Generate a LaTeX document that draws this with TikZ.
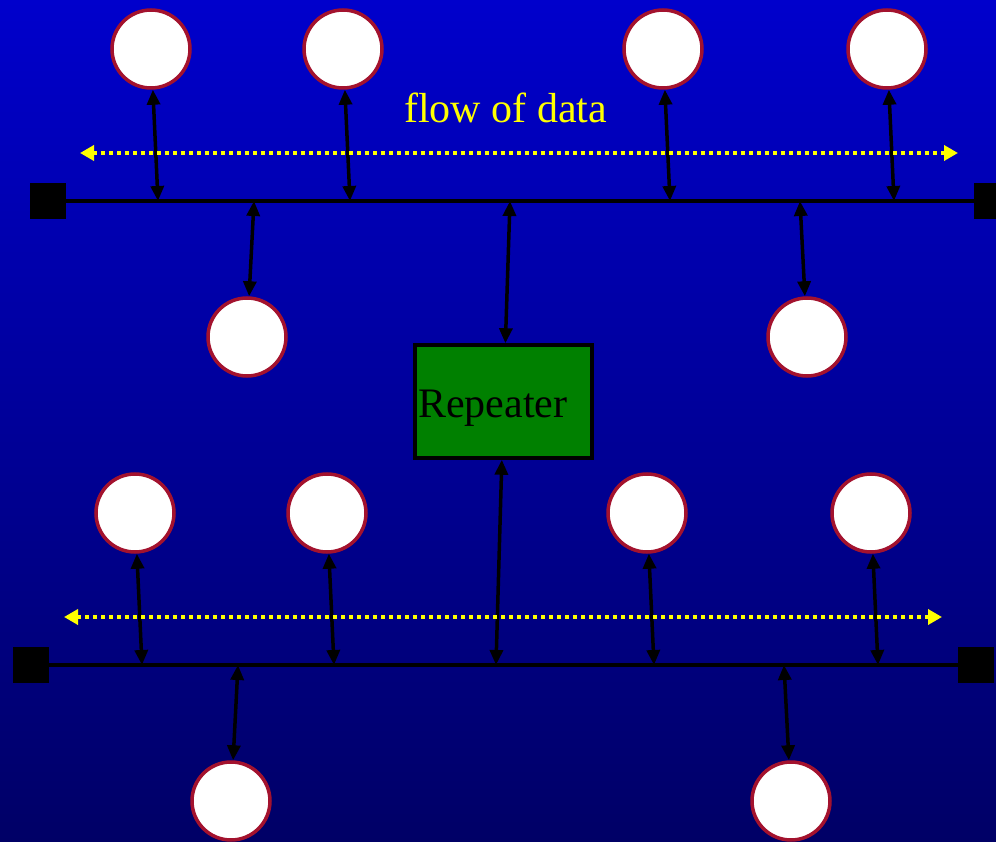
\documentclass[tikz,border=0pt]{standalone}
\usepackage{fontspec}
\setmainfont{Liberation Serif}
\usetikzlibrary{arrows.meta}
\definecolor{bgtop}{RGB}{0,0,204}
\definecolor{bgbot}{RGB}{0,0,102}
\definecolor{rim}{RGB}{163,18,46}
\definecolor{repgreen}{RGB}{0,128,0}
\definecolor{flowyellow}{RGB}{255,255,0}
\tikzset{
  station/.style={circle, fill=white, draw=rim, line width=3.5pt, minimum size=78pt, inner sep=0pt},
  endcap/.style={rectangle, fill=black, minimum size=36pt, inner sep=0pt},
  bus/.style={draw=black, line width=3.5pt},
  link/.style={draw=black, line width=3.5pt, {Triangle[length=15pt,width=13pt]}-{Triangle[length=15pt,width=13pt]}},
  flow/.style={draw=flowyellow, line width=4pt, dash pattern=on 4pt off 4pt,
    {Triangle[length=14pt,width=15pt]}-{Triangle[length=14pt,width=15pt]}},
  repbox/.style={rectangle, fill=repgreen, draw=black, line width=3.5pt, minimum width=177pt, minimum height=113pt, inner sep=0pt},
  big/.style={font=\fontsize{42}{50}\selectfont, inner sep=0pt}
}
\begin{document}
\begin{tikzpicture}[x=1pt,y=-1pt]
  % background
  \shade[top color=bgtop, bottom color=bgbot] (0,0) rectangle (996,842);
  \useasboundingbox (0,0) rectangle (996,842);

  % upper segment
  \node[endcap] (aL) at (47.5,201) {};
  \node[endcap] (aR) at (992,201) {};
  \draw[bus] (aL.east) -- (aR.west);

  \node[station] (a1) at (151,49) {};
  \node[station] (a2) at (343,49) {};
  \node[station] (a3) at (663,49) {};
  \node[station] (a4) at (887,49) {};
  \node[station] (a5) at (247,337) {};
  \node[station] (a6) at (807,337) {};

  \coordinate (ta1) at (158,201);
  \coordinate (ta2) at (350,201);
  \coordinate (ta3) at (670,201);
  \coordinate (ta4) at (894,201);
  \coordinate (ta5) at (254,201);
  \coordinate (ta6) at (800,201);
  \coordinate (tar) at (510,201);

  \draw[link] (a1) -- (ta1);
  \draw[link] (a2) -- (ta2);
  \draw[link] (a3) -- (ta3);
  \draw[link] (a4) -- (ta4);
  \draw[link] (ta5) -- (a5);
  \draw[link] (ta6) -- (a6);

  \coordinate (fa1) at (80,153);
  \coordinate (fa2) at (958,153);
  \draw[flow] (fa1) -- (fa2);
  \node[big, text=flowyellow, anchor=base] (flowlabel) at (505.5,123) {flow of data};

  % repeater
  \node[repbox] (rep) at (503.5,401.5) {};
  \node[big, text=black, anchor=base west] (replabel) at (418,417) {Repeater};
  \draw[link] (tar) -- (rep);

  % lower segment
  \node[endcap] (bL) at (31,665) {};
  \node[endcap] (bR) at (976,665) {};
  \draw[bus] (bL.east) -- (bR.west);

  \node[station] (b1) at (135,513) {};
  \node[station] (b2) at (327,513) {};
  \node[station] (b3) at (647,513) {};
  \node[station] (b4) at (871,513) {};
  \node[station] (b5) at (231,801) {};
  \node[station] (b6) at (791,801) {};

  \coordinate (tb1) at (142,665);
  \coordinate (tb2) at (334,665);
  \coordinate (tb3) at (654,665);
  \coordinate (tb4) at (878,665);
  \coordinate (tb5) at (238,665);
  \coordinate (tb6) at (784,665);
  \coordinate (tbr) at (496,665);

  \draw[link] (b1) -- (tb1);
  \draw[link] (b2) -- (tb2);
  \draw[link] (b3) -- (tb3);
  \draw[link] (b4) -- (tb4);
  \draw[link] (tb5) -- (b5);
  \draw[link] (tb6) -- (b6);
  \draw[link] (rep) -- (tbr);

  \coordinate (fb1) at (64,617);
  \coordinate (fb2) at (942,617);
  \draw[flow] (fb1) -- (fb2);
\end{tikzpicture}
\end{document}
